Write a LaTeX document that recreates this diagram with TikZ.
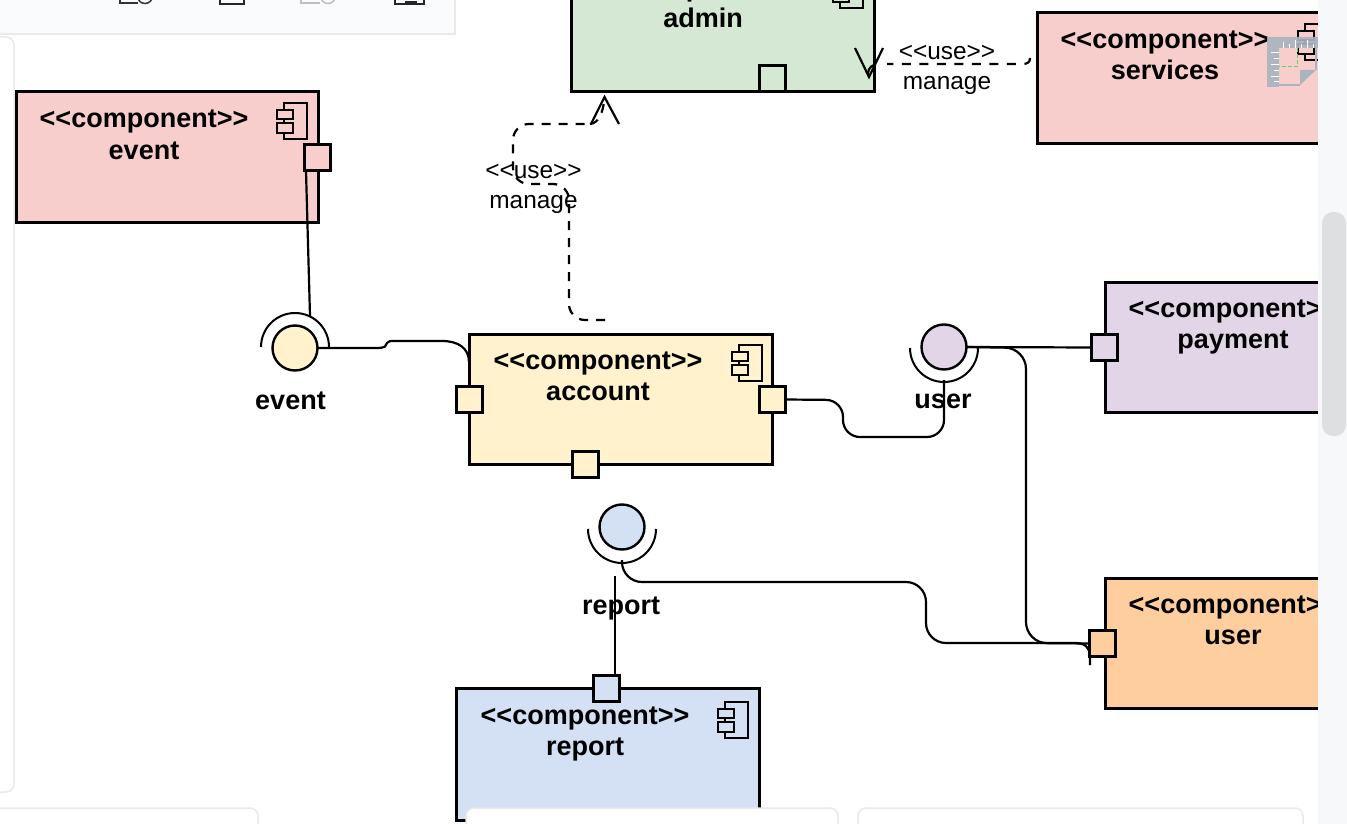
\documentclass[tikz,border=0pt]{standalone}
\usepackage{fontspec}
\setmainfont{Liberation Sans}
\definecolor{cred}{HTML}{F8CECC}
\definecolor{cgreen}{HTML}{D5E8D4}
\definecolor{cyellow}{HTML}{FFF2CC}
\definecolor{cpurple}{HTML}{E1D5E7}
\definecolor{corange}{HTML}{FFCE9F}
\definecolor{cblue}{HTML}{D4E1F5}
\definecolor{uiedge}{HTML}{E9E9E9}
\definecolor{uibar}{HTML}{FAFBFD}
\definecolor{uiside}{HTML}{F7F8FA}
\definecolor{uithumb}{HTML}{DEDFE1}
\definecolor{rulergray}{HTML}{AAB4BE}
\tikzset{
  x=1pt,y=-1pt,
  comp/.style={draw=black,line width=3pt,fill=#1,anchor=north west,inner sep=0pt,outer sep=0pt},
  portbox/.style={draw=black,line width=2.3pt,fill=#1,minimum size=26pt,inner sep=0pt,outer sep=0pt},
  iface/.style={draw=black,line width=2.4pt,fill=#1,circle,minimum size=45pt,inner sep=0pt,outer sep=0pt},
  socket/.style={draw=black,line width=2pt},
  wire/.style={draw=black,line width=2.2pt},
  dep/.style={draw=black,line width=2.2pt,dash pattern=on 9pt off 8pt},
  tip/.style={draw=black,line width=2.2pt},
  title/.style={font=\fontsize{27}{31.5}\selectfont\bfseries,align=center,inner sep=0pt},
  iflabel/.style={font=\fontsize{27}{31}\selectfont\bfseries,inner sep=0pt},
  deplabel/.style={font=\fontsize{24.4}{30}\selectfont,align=center,inner sep=0pt},
  panel/.style={draw=uiedge,line width=1.5pt,fill=white,rounded corners=8pt},
  icon/.style={draw=black,line width=2.2pt},
}
\newcommand{\compicon}[3]{%
  \begin{scope}[shift={(#1,#2)}]
    \draw[icon] (7,0) -- (30,0) -- (30,36) -- (7,36) -- cycle;
    \draw[icon,fill=#3] (0,7) rectangle (16,16);
    \draw[icon,fill=#3] (0,20) rectangle (16,30);
  \end{scope}}
\newcommand{\guil}{<{}<}
\newcommand{\guir}{>{}>}
\begin{document}
\begin{tikzpicture}
\useasboundingbox (0,0) rectangle (1347,824);
\fill[white] (0,0) rectangle (1347,824);

% interface chrome
\draw[draw=uiedge,line width=1.5pt,fill=uibar] (-5,-5) rectangle (455,34);
\draw[panel] (-20,37) rectangle (14,792);
\draw[line width=1.5pt,draw=black!80] (120,-3) -- (120,3) -- (138,3);
\draw[line width=1.5pt,draw=black!80] (145,-4) circle[radius=7.5];
\draw[line width=1.5pt,draw=black!85] (220,-3) -- (220,4) -- (244,4) -- (244,-3);
\draw[line width=1.5pt,draw=black!25] (301,-3) -- (301,3) -- (320,3);
\draw[line width=1.5pt,draw=black!25] (328,-4) circle[radius=7.5];
\draw[line width=1.5pt,draw=black!85] (395,-3) -- (395,4) -- (424,4) -- (424,-3);
\draw[line width=1.5pt,draw=black!85] (405,2) -- (417,2);

% components
\node[comp=cred,minimum width=302pt,minimum height=130pt] (eventbox) at (16,92) {};
\node[comp=cgreen,minimum width=303pt,minimum height=122pt] (adminbox) at (571,-30) {};
\node[comp=cred,minimum width=340pt,minimum height=131pt] (servicesbox) at (1037,13) {};
\node[comp=cpurple,minimum width=300pt,minimum height=130pt] (paymentbox) at (1105,282) {};
\node[comp=corange,minimum width=300pt,minimum height=130pt] (userbox) at (1105,578) {};
\node[comp=cyellow,minimum width=303pt,minimum height=130pt] (accountbox) at (469,334) {};
\node[comp=cblue,minimum width=303pt,minimum height=132pt] (reportbox) at (456,688) {};

% component titles
\node[title] (eventtitle) at (144,135) {\guil component\guir\\event};
\node[title] (admintitle) at (703,3.5) {\guil component\guir\\admin};
\node[title] (servicestitle) at (1165,55.5) {\guil component\guir\\services};
\node[title] (paymenttitle) at (1233,327) {\guil component\guir\\payment};
\node[title] (usertitle) at (1233,620.5) {\guil component\guir\\user};
\node[title] (accounttitle) at (598,376.5) {\guil component\guir\\account};
\node[title] (reporttitle) at (585,734) {\guil component\guir\\report};

% component icons
\compicon{277}{103}{cred}
\compicon{833}{-28}{cgreen}
\compicon{1298}{24}{cred}
\compicon{732}{345}{cyellow}
\compicon{718}{702}{cblue}

% ports
\node[portbox=cred] (eventport) at (317.5,157.5) {};
\node[portbox=cgreen] (adminport) at (772.5,78.5) {};
\node[portbox=cpurple] (paymentport) at (1104.5,347.5) {};
\node[portbox=corange] (userport) at (1102.5,643.5) {};
\node[portbox=cyellow] (accountleft) at (469.5,399.5) {};
\node[portbox=cyellow] (accountright) at (772.5,399.5) {};
\node[portbox=cyellow] (accountbottom) at (585.5,464.5) {};
\node[portbox=cblue] (reportport) at (606.5,688.5) {};

% provided / required interfaces
\node[iface=cyellow] (ifevent) at (295,348) {};
\node[iface=cpurple] (ifuser) at (944,347) {};
\node[iface=cblue] (ifreport) at (622,527) {};
\draw[socket] (261,347) arc[start angle=180,delta angle=180,radius=34];
\draw[socket] (910,348) arc[start angle=180,delta angle=-180,radius=34];
\draw[socket] (588,529) arc[start angle=180,delta angle=-180,radius=34];
\node[iflabel] (ifeventlabel) at (290.5,400.5) {event};
\node[iflabel] (ifuserlabel) at (943,401.5) {user};
\node[iflabel] (ifreportlabel) at (621,608) {report};

% solid connectors
\draw[wire] (306,171) -- (310,316);
\draw[wire] (ifevent.east) -- (376,348) .. controls (386,348) and (386,346) .. (387,343) .. controls (388,341) and (390,341) .. (396,341) -- (442,341) .. controls (458,341) and (469,348) .. (469,362);
\draw[wire,rounded corners=17pt] (accountright.east) -- (843,400) -- (843,437) -- (944,437) -- (944,380);
\draw[wire] (ifuser.east) -- (paymentport.west);
\draw[wire,rounded corners=21pt] (ifuser.east) -- (1026,348) -- (1026,643) -- (userport.west);
\draw[wire,rounded corners=20pt] (622,560) -- (622,582) -- (926,582) -- (926,643) -- (1050,643);
\draw[wire] (1050,643) -- (1076,643) .. controls (1085,643) and (1090,648) .. (1090,656) -- (1090,665);
\draw[wire] (615,576) -- (reportport.north -| 615,0);

% dependencies
\coordinate (admintipa) at (604.5,97);
\coordinate (admintipb) at (869,77);
\draw[dep,rounded corners=16pt] (605,320) -- (569,320) -- (569,184) -- (513,184) -- (513,124) -- (590,124);
\draw[dep] (590,124) .. controls (598,123) and (603,115) .. (admintipa);
\draw[dep,dash pattern=on 9pt off 8.5pt] (1030,58) .. controls (1030,62) and (1028,64) .. (1022,64) -- (887,64);
\draw[tip] (869,77) .. controls (866,72) and (870,66) .. (874,65);
\draw[tip] (591,124) -- (admintipa) -- (619,124);
\draw[tip] (855,48) -- (admintipb) -- (883,48);
\node[deplabel] (uselabela) at (533.5,189) {\guil use\guir\\manage};
\node[deplabel] (uselabelb) at (947,70) {\guil use\guir\\manage};

% ruler overlay
\fill[rulergray,fill opacity=0.92] (1267,37) -- (1330,37) -- (1330,48) -- (1279,48) -- (1279,87) -- (1267,87) -- cycle;
\fill[rulergray] (1300,70) -- (1316,70) -- (1300,85) -- cycle;
\draw[rulergray,line width=1.5pt] (1279,85) -- (1300,85) (1316,48) -- (1316,70);
\draw[white,line width=1pt] (1283,48) -- (1283,42) (1289,48) -- (1289,44) (1295,48) -- (1295,40) (1301,48) -- (1301,44) (1307,48) -- (1307,40) (1313,48) -- (1313,44);
\draw[white,line width=1pt] (1271,53) -- (1279,53) (1274,59) -- (1279,59) (1271,65) -- (1279,65) (1274,71) -- (1279,71) (1271,77) -- (1279,77) (1274,82) -- (1279,82);
\draw[green!55!gray!80,line width=1pt,dash pattern=on 4pt off 2pt] (1297,48) -- (1297,67) -- (1279,67);

% scrollbar and lower panels
\fill[uiside] (1318,-5) rectangle (1352,830);
\fill[uithumb,rounded corners=11pt] (1322,212) rectangle (1346,436);
\draw[panel] (-20,808) rectangle (258,850);
\draw[panel] (466,808) rectangle (838,850);
\draw[panel] (858,808) rectangle (1303,850);
\end{tikzpicture}
\end{document}
